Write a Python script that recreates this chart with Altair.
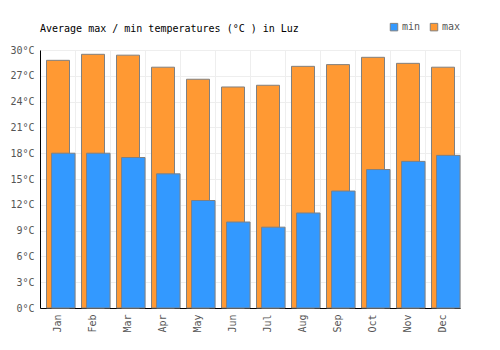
import altair as alt
import pandas as pd

months = ["Jan", "Feb", "Mar", "Apr", "May", "Jun", "Jul", "Aug", "Sep", "Oct", "Nov", "Dec"]
max_temp = [28.8, 29.5, 29.4, 28.0, 26.6, 25.7, 25.9, 28.1, 28.3, 29.15, 28.45, 28.0]
min_temp = [18.0, 18.0, 17.5, 15.6, 12.5, 10.0, 9.4, 11.05, 13.6, 16.1, 17.05, 17.75]

df = pd.DataFrame({"month": months, "max": max_temp, "min": min_temp})

FONT = "DejaVu Sans Mono"

color = alt.Color(
    "series:N",
    scale=alt.Scale(domain=["min", "max"], range=["#3399ff", "#ff9933"]),
    legend=alt.Legend(
        title=None, orient="none", legendX=349, legendY=-28, direction="horizontal",
        symbolType="square", symbolSize=56, symbolStrokeColor="#808080", symbolStrokeWidth=1,
        labelFont=FONT, labelFontSize=10, labelColor="#555555", columnPadding=7,
        symbolOffset=0, labelOffset=3,
    ),
)

x = alt.X(
    "month:N", sort=months,
    scale=alt.Scale(paddingInner=0, paddingOuter=0),
    axis=alt.Axis(
        title=None, labelAngle=-90, labelFont=FONT, labelFontSize=10, labelColor="#555555",
        tickBand="extent", grid=True, gridColor="#eeeeee", ticks=False, domainColor="#000000",
        labelPadding=6, labelAlign="right", labelBaseline="middle",
    ),
)

y_axis = alt.Axis(
    title=None, values=list(range(0, 31, 3)), labelExpr="datum.value + '°C'",
    labelFont=FONT, labelFontSize=10, labelColor="#555555", gridColor="#eeeeee",
    ticks=False, domainColor="#000000", labelPadding=6,
)
y_scale = alt.Scale(domain=[0, 30], nice=False)

base = alt.Chart(df)

max_bars = base.transform_fold(["max"], as_=["series", "value"]).mark_bar(
    width=23, xOffset=0.5, stroke="#808080", strokeWidth=1
).encode(x=x, y=alt.Y("value:Q", scale=y_scale, axis=y_axis), color=color)

min_bars = base.transform_fold(["min"], as_=["series", "value"]).mark_bar(
    width=23.5, xOffset=5.8, stroke="#808080", strokeWidth=1
).encode(x=x, y=alt.Y("value:Q", scale=y_scale, axis=y_axis), color=color)

chart = alt.layer(max_bars, min_bars).properties(
    width=420, height=258,
    title=alt.TitleParams(
        "Average max / min temperatures (°C ) in Luz", anchor="start", frame="group",
        font=FONT, fontSize=10, fontWeight="normal", color="#000000", offset=4, dy=16,
    ),
    autosize=alt.AutoSizeParams(type="none"),
    padding={"left": 40, "top": 50, "right": 40, "bottom": 42},
).configure_view(stroke=None).configure(background="white")

chart.save("out.html", embed_options={"renderer": "svg", "actions": False})
